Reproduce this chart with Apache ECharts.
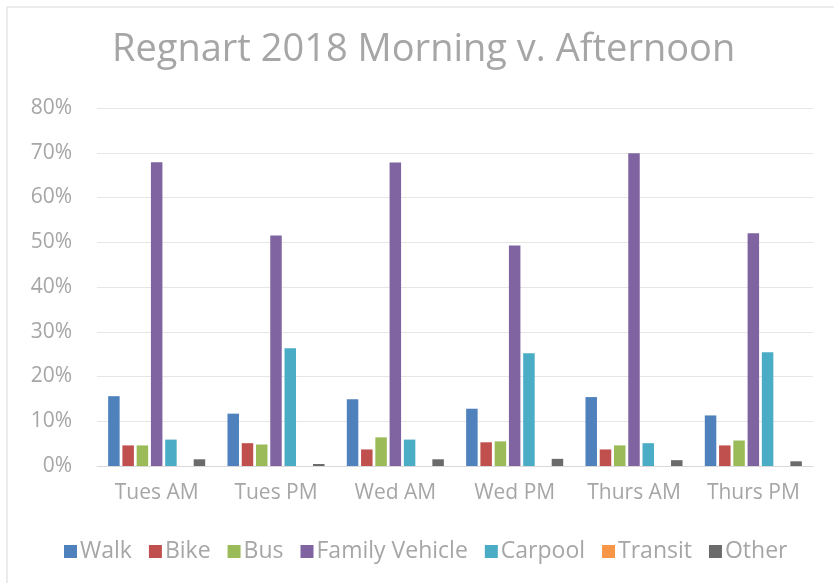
<!doctype html>
<html>
<head>
    <meta http-equiv="Content-Type" content="text/html; charset=utf-8">
    <title>Regnart 2018 Morning v. Afternoon</title>
    <script src="https://cdn.jsdelivr.net/npm/echarts@6/dist/echarts.min.js"></script>
    <style>
        html, body { margin: 0; padding: 0; background: #fff; overflow: hidden; }
        #main { width: 834px; height: 583px; }
    </style>
</head>
<body>
<div id="main"></div>
<script type="text/javascript">
    // 数据 (percent)
    var days = ['Tues AM', 'Tues PM', 'Wed AM', 'Wed PM', 'Thurs AM', 'Thurs PM'];
    var walk    = [15.6, 11.7, 14.9, 12.8, 15.4, 11.3];
    var bike    = [4.6, 5.1, 3.7, 5.3, 3.7, 4.6];
    var bus     = [4.6, 4.8, 6.4, 5.5, 4.6, 5.7];
    var family  = [67.9, 51.5, 67.8, 49.3, 69.9, 52.0];
    var carpool = [5.9, 26.3, 5.9, 25.2, 5.1, 25.4];
    var transit = [0, 0, 0, 0, 0, 0];
    var other   = [1.5, 0.45, 1.5, 1.6, 1.3, 1.05];

    var font = '"Open Sans", "Noto Sans", sans-serif';
    var txt = '#a6a6a6';

    function bar(name, data) {
        return {
            name: name,
            type: 'bar',
            data: data,
            barWidth: 11.5,
            barGap: '24%',
            emphasis: { disabled: true }
        };
    }

    var myChart = echarts.init(document.getElementById('main'));
    var option = {
        animation: false,
        color: ['#4F81BD', '#C0504D', '#9BBB59', '#8064A2', '#4BACC6', '#F79646', '#6B6B6B'],
        graphic: [{
            type: 'rect',
            shape: { x: 7, y: 7, width: 840, height: 590 },
            style: { fill: 'none', stroke: '#d9d9d9', lineWidth: 1 },
            silent: true
        }],
        title: {
            text: 'Regnart 2018 Morning v. Afternoon',
            left: 112,
            top: 31,
            padding: 0,
            textStyle: { fontFamily: font, fontSize: 38, fontWeight: 'normal', color: txt }
        },
        legend: {
            bottom: 20,
            left: 64,
            padding: 0,
            itemWidth: 13,
            itemHeight: 13,
            itemGap: 17,
            icon: 'rect',
            textStyle: { fontFamily: font, fontSize: 23, color: txt, padding: [0, 0, 0, -2] },
            data: ['Walk', 'Bike', 'Bus', 'Family Vehicle', 'Carpool', 'Transit', 'Other']
        },
        grid: { left: 97, right: 21, top: 108, bottom: 117 },
        xAxis: {
            type: 'category',
            data: days,
            axisTick: { show: false },
            axisLine: { lineStyle: { color: '#d9d9d9', width: 1 } },
            axisLabel: { interval: 0, fontFamily: font, fontSize: 21, color: txt, margin: 17 }
        },
        yAxis: {
            type: 'value',
            min: 0,
            max: 80,
            interval: 10,
            axisLine: { show: false },
            axisTick: { show: false },
            splitLine: { lineStyle: { color: '#e6e6e6', width: 1 } },
            axisLabel: { fontFamily: font, fontSize: 21, color: txt, margin: 25, formatter: '{value}%' }
        },
        series: [
            bar('Walk', walk),
            bar('Bike', bike),
            bar('Bus', bus),
            bar('Family Vehicle', family),
            bar('Carpool', carpool),
            bar('Transit', transit),
            bar('Other', other)
        ]
    };
    myChart.setOption(option);
</script>
</body>
</html>
